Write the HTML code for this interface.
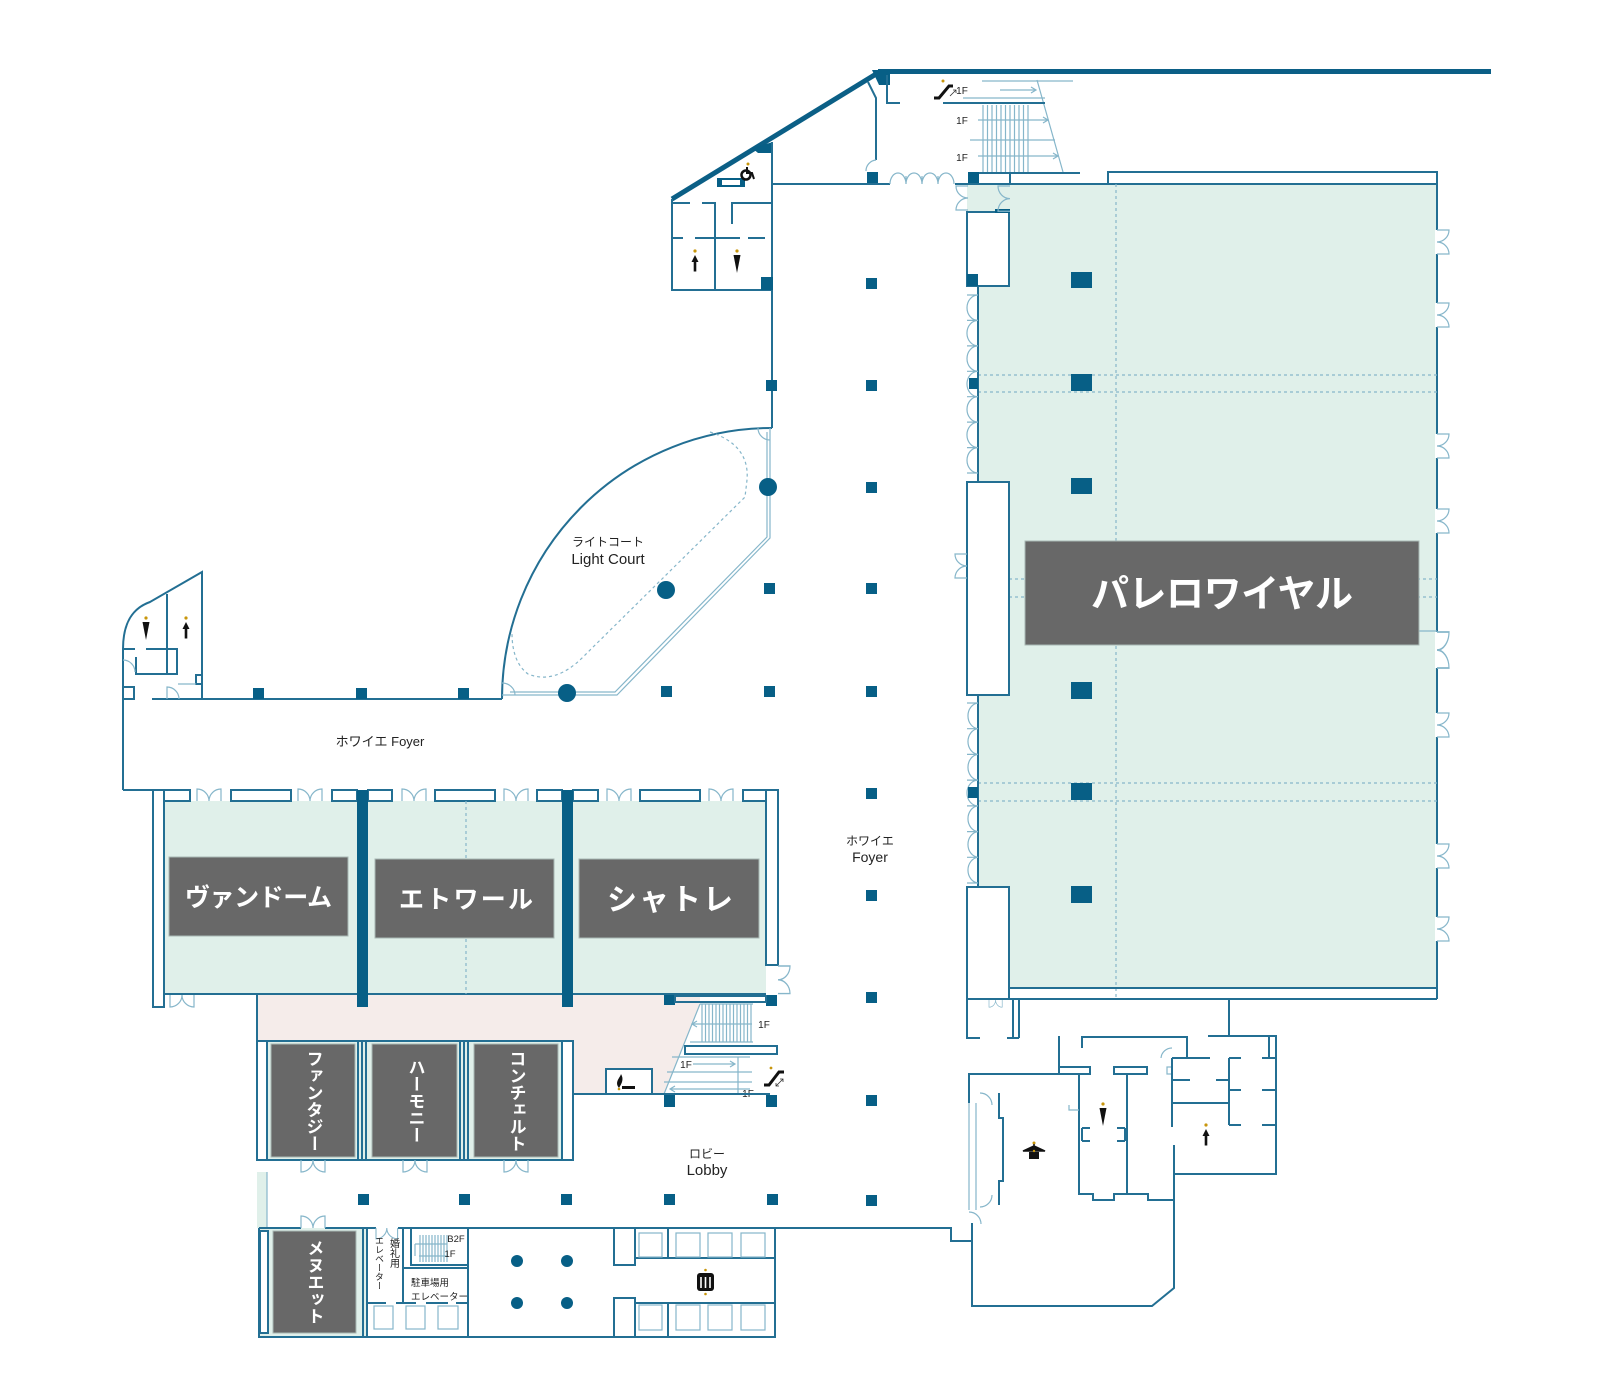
<!DOCTYPE html>
<html><head><meta charset="utf-8">
<style>
html,body{margin:0;padding:0;background:#fff;}
svg{display:block;}
.w{stroke:#236f93;stroke-width:2;fill:none;}
.wf{stroke:#236f93;stroke-width:2;fill:#fff;}
.l{stroke:#86b6ca;stroke-width:1.2;fill:none;}
.c{fill:#075f86;}
.d{stroke:#86b6ca;stroke-width:1.2;fill:none;stroke-dasharray:3 3;}
.lab{fill:#686868;stroke:#a9b8b4;stroke-width:1;}
.lt{font-family:"Liberation Sans","Noto Sans CJK JP",sans-serif;fill:#fff;font-weight:bold;}
.tx{font-family:"Liberation Sans","Noto Sans CJK JP",sans-serif;fill:#222;}
.vt{font-family:"Liberation Sans","Noto Sans CJK JP",sans-serif;fill:#fff;font-weight:bold;writing-mode:vertical-rl;}
.ic{fill:#111;}
.gd{fill:#c8960c;}
</style></head><body>
<svg width="1600" height="1400" viewBox="0 0 1600 1400" xmlns="http://www.w3.org/2000/svg">
<defs>
<path id="dd" d="M0,0 V-12 A12,12 0 0 1 12,0 M24,0 V-12 A12,12 0 0 0 12,0" stroke="#86b6ca" stroke-width="1.2" fill="none"/>
<g id="mup"><circle cx="0" cy="-12" r="1.6" fill="#c8960c"/><polygon points="0,-8 -3.5,-1 3.5,-1" fill="#111"/><rect x="-1.3" y="-1.5" width="2.6" height="10" fill="#111"/></g>
<g id="fdn"><circle cx="0" cy="-12" r="1.6" fill="#c8960c"/><polygon points="-3.5,-8 3.5,-8 0,10" fill="#111"/></g>
</defs>

<!-- fills -->
<rect x="978" y="184" width="459" height="804" fill="#e0f0ea"/>
<rect x="967" y="184" width="42" height="28" fill="#e0f0ea"/>
<rect x="164" y="801" width="602" height="193" fill="#e0f0ea"/>
<polygon points="257,995 700,995 700,1004 664,1094 573,1094 573,1041 257,1041" fill="#f5ecea"/>
<rect x="257" y="1041" width="316" height="119" fill="#e0f0ea"/>
<rect x="259" y="1228" width="108" height="109" fill="#e0f0ea"/>
<rect x="257" y="1172" width="10" height="56" fill="#e0f0ea"/>

<!-- TOP -->
<line x1="878" y1="71.5" x2="1491" y2="71.5" stroke="#0b5f86" stroke-width="5"/>
<line x1="672" y1="199" x2="881" y2="71" stroke="#0b5f86" stroke-width="5"/>
<polygon points="872,70 890,70 890,85 879,85" class="c"/>
<polygon points="752,148 773,142 773,153 758,153" class="c"/>
<polyline points="868,82 876,98 876,160" class="w"/>
<path d="M876,160 A11,11 0 0 0 866,171" class="l"/>
<rect x="867" y="172" width="11" height="12" class="c"/>
<path d="M887,75 V103 H900" class="w"/>
<line x1="772" y1="184" x2="890" y2="184" class="w"/>
<path d="M890,184 A8,11 0 0 1 906,184 A8,11 0 0 1 922,184 A8,11 0 0 1 938,184 A8,11 0 0 1 954,184 M906,184 V176 M922,184 V176 M938,184 V176" class="l"/>
<rect x="968" y="172" width="11" height="12" class="c"/>
<line x1="979" y1="173" x2="1080" y2="173" class="w"/>
<line x1="955" y1="184" x2="1437" y2="184" class="w"/>
<line x1="1010" y1="173" x2="1010" y2="184" class="w"/>
<path d="M1108,184 V172 H1437 V999" class="w"/>
<!-- top stairs -->
<g class="l">
<path d="M983,105V172 M987.5,105V172 M992,105V172 M996.5,105V172 M1001,105V172 M1005.5,105V172 M1010,105V172 M1014.5,105V172 M1019,105V172 M1023.5,105V172 M1028,105V172"/>
<path d="M982,81 H1073 M963,98 H1045 M970,140 H1055 M1037,80 L1063,172"/>
<path d="M1000,90 H1036 M1031,87 L1036,90 L1031,93"/>
<path d="M978,120 H1048 M1043,117 L1048,120 L1043,123"/>
<path d="M978,156 H1058 M1053,153 L1058,156 L1053,159"/>
</g>
<line x1="943" y1="103" x2="1045" y2="103" class="w"/>
<text x="962" y="94" class="tx" font-size="10" text-anchor="middle">1F</text>
<text x="962" y="124" class="tx" font-size="10" text-anchor="middle">1F</text>
<text x="962" y="161" class="tx" font-size="10" text-anchor="middle">1F</text>
<path d="M934,98 H939 L949,86 H953" stroke="#111" stroke-width="3" fill="none"/>
<circle cx="943" cy="81" r="1.5" class="gd"/>
<path d="M950,96 L956,90 M953,90 H956 V93" stroke="#333" stroke-width="0.8" fill="none"/>

<!-- top-left restroom block -->
<path d="M672,199 V290 H773" class="w"/>
<line x1="772" y1="142" x2="772" y2="428" class="w"/>
<line x1="715" y1="203" x2="715" y2="290" class="w"/>
<path d="M672,203 H690 M702,203 H716 M732,224 V203 H772 M672,238 H683 M695,238 H740 M748,238 H765" class="w"/>
<rect x="761" y="277" width="12" height="13" class="c"/>
<rect x="766" y="380" width="11" height="11" class="c"/>
<rect x="717" y="178" width="28" height="9" class="c"/>
<rect x="722" y="180" width="18" height="5" fill="#fff"/>
<circle cx="748" cy="164" r="1.5" class="gd"/>
<circle cx="746" cy="175" r="4.5" stroke="#111" stroke-width="2.5" fill="none"/>
<path d="M747,167 V173 H752 L754,179" stroke="#111" stroke-width="2" fill="none"/>
<use href="#mup" x="695" y="263"/>
<use href="#fdn" x="737" y="263"/>

<!-- light court -->
<path d="M772,428 A270,271 0 0 0 502,699" class="w"/>
<polyline points="770,428 770,538 617,695 502,695" class="l"/>
<polyline points="767,432 767,537 615,692 510,692" class="l"/>
<path d="M710,432 Q750,445 747,480 L745,497 L583,657 Q555,685 528,674 Q512,662 512,633" class="d"/>
<path d="M758,428 A12,12 0 0 0 770,440" class="l"/>
<path d="M502,683 A13,12 0 0 1 515,695" class="l"/>
<circle cx="768" cy="487" r="9" class="c"/>
<circle cx="666" cy="590" r="9" class="c"/>
<circle cx="567" cy="693" r="9" class="c"/>
<text x="608" y="546" class="tx" font-size="12" text-anchor="middle">ライトコート</text>
<text x="608" y="564" class="tx" font-size="15" text-anchor="middle">Light Court</text>

<!-- foyer columns grid -->
<g class="c">
<rect x="866" y="278" width="11" height="11"/><rect x="866" y="380" width="11" height="11"/>
<rect x="866" y="482" width="11" height="11"/><rect x="866" y="583" width="11" height="11"/>
<rect x="866" y="686" width="11" height="11"/><rect x="866" y="788" width="11" height="11"/>
<rect x="866" y="890" width="11" height="11"/><rect x="866" y="992" width="11" height="11"/>
<rect x="866" y="1095" width="11" height="11"/><rect x="866" y="1195" width="11" height="11"/>
<rect x="764" y="583" width="11" height="11"/><rect x="764" y="686" width="11" height="11"/>
<rect x="661" y="686" width="11" height="11"/>
<rect x="358" y="1194" width="11" height="11"/><rect x="459" y="1194" width="11" height="11"/>
<rect x="561" y="1194" width="11" height="11"/><rect x="664" y="1194" width="11" height="11"/>
<rect x="767" y="1194" width="11" height="11"/>
</g>
<text x="870" y="845" class="tx" font-size="12" text-anchor="middle">ホワイエ</text>
<text x="870" y="862" class="tx" font-size="14" text-anchor="middle">Foyer</text>

<!-- foyer west -->
<line x1="152" y1="699" x2="502" y2="699" class="w"/>
<line x1="123" y1="649" x2="123" y2="790" class="w"/>
<line x1="123" y1="790" x2="153" y2="790" class="w"/>
<rect x="253" y="688" width="11" height="11" class="c"/>
<rect x="356" y="688" width="11" height="11" class="c"/>
<rect x="458" y="688" width="11" height="11" class="c"/>
<path d="M123,649 C123,622 133,608 150,602 L202,572 V699" class="w"/>
<path d="M167,594 V674 M123,649 H135 M146,649 H177 V674 H136 V657" class="w"/>
<rect x="123" y="687" width="11" height="12" class="w"/>
<rect x="196" y="675" width="6" height="9" class="w"/>
<path d="M123,660 A12,12 0 0 1 135,672 M167,699 V687 A12,12 0 0 1 179,699 M178,684 H196" class="l"/>
<use href="#fdn" x="146" y="630"/>
<use href="#mup" x="186" y="630"/>
<text x="380" y="746" class="tx" font-size="13" text-anchor="middle">ホワイエ Foyer</text>

<!-- ballroom band -->
<g class="w">
<rect x="164" y="790" width="26" height="11"/><rect x="231" y="790" width="60" height="11"/>
<rect x="332" y="790" width="25" height="11"/><rect x="368" y="790" width="24" height="11"/>
<rect x="435" y="790" width="60" height="11"/><rect x="537" y="790" width="25" height="11"/>
<rect x="573" y="790" width="25" height="11"/><rect x="640" y="790" width="60" height="11"/>
<rect x="743" y="790" width="23" height="11"/>
</g>
<rect x="153" y="790" width="11" height="217" class="wf"/>
<rect x="766" y="790" width="12" height="175" class="wf"/>
<use href="#dd" transform="translate(197,801)"/>
<use href="#dd" transform="translate(298,801)"/>
<use href="#dd" transform="translate(402,801)"/>
<use href="#dd" transform="translate(504,801)"/>
<use href="#dd" transform="translate(607,801)"/>
<use href="#dd" transform="translate(709,801)"/>
<use href="#dd" transform="translate(778,966) rotate(90) scale(1.15,1)"/>
<use href="#dd" transform="translate(170,995) scale(1,-1)"/>
<line x1="164" y1="994" x2="766" y2="994" class="w"/>
<line x1="466" y1="801" x2="466" y2="994" class="d"/>
<rect x="357" y="790" width="11" height="217" class="c"/>
<rect x="562" y="790" width="11" height="217" class="c"/>
<rect x="169" y="857" width="179" height="79" class="lab"/>
<rect x="375" y="859" width="179" height="79" class="lab"/>
<rect x="579" y="859" width="180" height="79" class="lab"/>
<text x="258.5" y="906" class="lt" font-size="25" text-anchor="middle" textLength="147" lengthAdjust="spacing">ヴァンドーム</text>
<text x="466" y="908" class="lt" font-size="25" text-anchor="middle" textLength="134" lengthAdjust="spacing">エトワール</text>
<text x="670" y="910" class="lt" font-size="30" text-anchor="middle" textLength="126" lengthAdjust="spacing">シャトレ</text>

<!-- pink / escalator -->
<line x1="257" y1="995" x2="257" y2="1041" class="w"/>
<rect x="664" y="995" width="11" height="10" class="c"/>
<rect x="766" y="995" width="11" height="11" class="c"/>
<rect x="675" y="996" width="91" height="6" class="w"/>
<g class="l">
<path d="M702,1004V1042 M705.5,1004V1042 M709,1004V1042 M712.5,1004V1042 M716,1004V1042 M719.5,1004V1042 M723,1004V1042 M726.5,1004V1042 M730,1004V1042 M733.5,1004V1042 M737,1004V1042 M740.5,1004V1042 M744,1004V1042 M747.5,1004V1042 M751,1004V1042"/>
<path d="M700,1004 H753 M690,1042 H753 M752,1024 H692 M697,1021 L692,1024 L697,1027"/>
<path d="M700,1004 L664,1094"/>
<path d="M672,1057 H750 M667,1072 H752 M664,1082 H752 M738,1057 V1093"/>
<path d="M693,1064 H735 M730,1061 L735,1064 L730,1067"/>
<path d="M750,1089 H670 M675,1086 L670,1089 L675,1092"/>
</g>
<text x="764" y="1028" class="tx" font-size="10" text-anchor="middle">1F</text>
<text x="686" y="1068" class="tx" font-size="10" text-anchor="middle">1F</text>
<text x="748" y="1097" class="tx" font-size="10" text-anchor="middle">1F</text>
<rect x="685" y="1046" width="92" height="8" class="w"/>
<line x1="573" y1="1094" x2="770" y2="1094" class="w"/>
<rect x="664" y="1095" width="11" height="12" class="c"/>
<rect x="766" y="1095" width="11" height="12" class="c"/>
<rect x="606" y="1069" width="46" height="25" class="wf"/>
<path d="M619,1088 C614,1082 620,1078 621,1074 C624,1079 622,1083 619,1088Z" class="ic"/>
<rect x="622" y="1086" width="13" height="3" class="ic"/>
<circle cx="619" cy="1089" r="1.3" class="gd"/>
<path d="M764,1085 H769 L779,1072 H784" stroke="#111" stroke-width="3" fill="none"/>
<circle cx="771" cy="1068" r="1.4" class="gd"/>
<path d="M776,1086 L783,1079 M780,1079 H783 V1082 M776,1083 V1086 H779" stroke="#333" stroke-width="0.8" fill="none"/>

<!-- small rooms -->
<rect x="257" y="1041" width="316" height="119" class="w"/>
<rect x="257" y="1041" width="10" height="119" class="wf"/>
<rect x="562" y="1041" width="11" height="119" class="wf"/>
<path d="M358,1041 V1160 M362,1041 V1160 M366,1041 V1160 M460,1041 V1160 M464,1041 V1160 M468,1041 V1160" class="w" stroke-width="1.3"/>
<rect x="271" y="1044" width="84" height="113" class="lab"/>
<rect x="372" y="1044" width="85" height="113" class="lab"/>
<rect x="474" y="1044" width="84" height="113" class="lab"/>
<text x="313" y="1101" class="vt" font-size="17" text-anchor="middle">ファンタジー</text>
<text x="415" y="1101" class="vt" font-size="17" text-anchor="middle">ハーモニー</text>
<text x="516" y="1101" class="vt" font-size="17" text-anchor="middle">コンチェルト</text>
<use href="#dd" transform="translate(301,1160) scale(1,-1)"/>
<use href="#dd" transform="translate(403,1160) scale(1,-1)"/>
<use href="#dd" transform="translate(504,1160) scale(1,-1)"/>
<line x1="267" y1="1172" x2="267" y2="1228" class="l"/>
<text x="707" y="1158" class="tx" font-size="12" text-anchor="middle">ロビー</text>
<text x="707" y="1175" class="tx" font-size="15" text-anchor="middle">Lobby</text>

<!-- lower block -->
<path d="M259,1228 H301 M325,1228 H376 M398,1228 H951 V1241 H972" class="w"/>
<use href="#dd" transform="translate(301,1228)"/>
<use href="#dd" transform="translate(376,1228) scale(0.9,-0.9)"/>
<path d="M259,1228 V1337 H775 V1228" class="w"/>
<rect x="260" y="1231" width="8" height="102" class="wf"/>
<path d="M363,1228 V1337 M367,1228 V1337 M403,1228 V1303 M468,1228 V1337" class="w"/>
<rect x="273" y="1231" width="83" height="102" class="lab"/>
<text x="314" y="1282" class="vt" font-size="17" text-anchor="middle">メヌエット</text>
<text x="393" y="1253" class="tx" font-size="10" text-anchor="middle" style="writing-mode:vertical-rl">婚礼用</text>
<text x="379" y="1263" class="tx" font-size="9" text-anchor="middle" style="writing-mode:vertical-rl">エレベーター</text>
<rect x="411" y="1228" width="57" height="37" class="w"/>
<g class="l">
<path d="M420,1235V1262 M423,1235V1262 M426,1235V1262 M429,1235V1262 M432,1235V1262 M435,1235V1262 M438,1235V1262 M441,1235V1262 M444,1235V1262 M447,1235V1262"/>
<path d="M415,1244 H447 M419,1256 H447 M415,1244 V1256"/>
</g>
<line x1="403" y1="1268" x2="468" y2="1268" class="w"/>
<text x="456" y="1242" class="tx" font-size="9.5" text-anchor="middle">B2F</text>
<text x="450" y="1257" class="tx" font-size="9.5" text-anchor="middle">1F</text>
<text x="411" y="1286" class="tx" font-size="9.5">駐車場用</text>
<text x="411" y="1300" class="tx" font-size="9.5">エレベーター</text>
<path d="M367,1303 H386 M396,1303 H416 M426,1303 H448 M456,1303 H468" class="w"/>
<g class="l"><rect x="374" y="1306" width="19" height="23"/><rect x="406" y="1306" width="19" height="23"/><rect x="438" y="1306" width="20" height="23"/></g>
<circle cx="517" cy="1261" r="6" class="c"/><circle cx="567" cy="1261" r="6" class="c"/>
<circle cx="517" cy="1303" r="6" class="c"/><circle cx="567" cy="1303" r="6" class="c"/>
<!-- elevator bank -->
<rect x="614" y="1228" width="21" height="37" class="w"/>
<rect x="614" y="1298" width="21" height="39" class="w"/>
<path d="M635,1258 H775 M635,1303 H775 M668,1228 V1258 M668,1303 V1337" class="w"/>
<g class="l">
<rect x="639" y="1233" width="23" height="24"/><rect x="676" y="1233" width="24" height="24"/>
<rect x="708" y="1233" width="24" height="24"/><rect x="741" y="1233" width="24" height="24"/>
<rect x="639" y="1305" width="23" height="25"/><rect x="676" y="1305" width="24" height="25"/>
<rect x="708" y="1305" width="24" height="25"/><rect x="741" y="1305" width="24" height="25"/>
</g>
<rect x="697" y="1273" width="17" height="18" rx="3" class="ic"/>
<path d="M701,1277 V1288 M705.5,1277 V1288 M710,1277 V1288" stroke="#fff" stroke-width="1.6"/>
<circle cx="705.5" cy="1270" r="1.3" class="gd"/><circle cx="705.5" cy="1294" r="1.3" class="gd"/>

<!-- PALAIS ROYAL -->
<g class="d">
<line x1="1116" y1="184" x2="1116" y2="999"/>
<line x1="978" y1="375" x2="1437" y2="375"/><line x1="978" y1="392" x2="1437" y2="392"/>
<line x1="1009" y1="579" x2="1437" y2="579"/><line x1="1009" y1="597" x2="1437" y2="597"/>
<line x1="978" y1="783" x2="1437" y2="783"/><line x1="978" y1="801" x2="1437" y2="801"/>
</g>
<g class="c">
<rect x="1071" y="272" width="21" height="16"/><rect x="1071" y="374" width="21" height="17"/>
<rect x="1071" y="478" width="21" height="16"/><rect x="1071" y="682" width="21" height="17"/>
<rect x="1071" y="783" width="21" height="17"/><rect x="1071" y="886" width="21" height="17"/>
</g>
<rect x="967" y="212" width="42" height="74" class="wf"/>
<rect x="967" y="274" width="11" height="12" class="c"/>
<rect x="995" y="209" width="15" height="4" class="c"/>
<use href="#dd" transform="translate(968,186) rotate(90) scale(1,-1)"/>
<use href="#dd" transform="translate(1010,186) rotate(90) scale(1.05,-1)"/>
<line x1="978" y1="286" x2="978" y2="482" class="w"/>
<path d="M978,295 A11,12.7 0 0 0 978,320.4 A11,12.7 0 0 0 978,345.9 A11,12.7 0 0 0 978,371.3 A11,12.7 0 0 0 978,396.7 A11,12.7 0 0 0 978,422.1 A11,12.7 0 0 0 978,447.6 A11,12.7 0 0 0 978,473 M967,295H978 M967,320.4H978 M967,345.9H978 M967,371.3H978 M967,396.7H978 M967,422.1H978 M967,447.6H978 M967,473H978" class="l"/>
<rect x="969" y="378" width="9" height="11" class="c"/>
<rect x="967" y="482" width="42" height="213" class="wf"/>
<use href="#dd" transform="translate(967,554) rotate(90) scale(1,-1)"/>
<line x1="978" y1="695" x2="978" y2="887" class="w"/>
<path d="M978,703 A11,12.9 0 0 0 978,728.7 A11,12.9 0 0 0 978,754.4 A11,12.9 0 0 0 978,780.1 A11,12.9 0 0 0 978,805.9 A11,12.9 0 0 0 978,831.6 A11,12.9 0 0 0 978,857.3 A11,12.9 0 0 0 978,883 M967,703H978 M967,728.7H978 M967,754.4H978 M967,780.1H978 M967,805.9H978 M967,831.6H978 M967,857.3H978 M967,883H978" class="l"/>
<rect x="968" y="787" width="10" height="11" class="c"/>
<rect x="967" y="887" width="42" height="112" class="wf"/>
<line x1="1009" y1="988" x2="1437" y2="988" class="w"/>
<line x1="967" y1="999" x2="1437" y2="999" class="w"/>
<!-- right wall doors -->
<g fill="#fff">
<rect x="1435" y="230" width="4" height="24"/><rect x="1435" y="303" width="4" height="24"/>
<rect x="1435" y="434" width="4" height="24"/><rect x="1435" y="509" width="4" height="24"/>
<rect x="1435" y="632" width="4" height="36"/><rect x="1435" y="713" width="4" height="24"/>
<rect x="1435" y="844" width="4" height="24"/><rect x="1435" y="917" width="4" height="24"/>
</g>
<use href="#dd" transform="translate(1437,230) rotate(90)"/>
<use href="#dd" transform="translate(1437,303) rotate(90)"/>
<use href="#dd" transform="translate(1437,434) rotate(90)"/>
<use href="#dd" transform="translate(1437,509) rotate(90)"/>
<use href="#dd" transform="translate(1437,632) rotate(90) scale(1.5,1)"/>
<use href="#dd" transform="translate(1437,713) rotate(90)"/>
<use href="#dd" transform="translate(1437,844) rotate(90)"/>
<use href="#dd" transform="translate(1437,917) rotate(90)"/>
<line x1="1419" y1="631" x2="1437" y2="631" class="l"/>
<rect x="1025" y="541" width="394" height="104" class="lab"/>
<text x="1222" y="607" class="lt" font-size="38" text-anchor="middle" textLength="262" lengthAdjust="spacing">パレロワイヤル</text>

<!-- bottom right block -->
<path d="M967,999 V1038 H980 M1013,999 V1038 M1019,999 V1038 M1007,1038 H1019" class="w"/>
<use href="#dd" transform="translate(989,1000) scale(0.55,-0.6)"/>
<path d="M1229,999 V1036 M1208,1036 H1276 V1174 H1174" class="w"/>
<path d="M1059,1036 V1073 M1082,1048 V1037 H1187 V1058" class="w"/>
<rect x="1059" y="1067" width="31" height="7" class="wf"/>
<rect x="1114" y="1067" width="33" height="7" class="wf"/>
<rect x="1167" y="1067" width="5" height="7" class="l"/>
<path d="M969,1103 V1074 H1079" class="w"/>
<path d="M969,1103 V1210 M976,1103 V1210" class="l"/>
<path d="M999,1093 V1118 H1003 V1181 H999 V1205" class="w"/>
<path d="M980,1093 A12,12 0 0 1 992,1105 M980,1207 A12,12 0 0 0 992,1195 M969,1212 A12,12 0 0 1 981,1224" class="l"/>
<path d="M972,1223 V1306 H1152 L1174,1288 V1145" class="w"/>
<path d="M1079,1074 V1194 H1093 V1200 H1114 V1194 H1148 V1200 H1174 M1127,1074 V1194" class="w"/>
<path d="M1172,1058 V1127 M1172,1058 H1210 M1172,1103 H1229 M1229,1058 V1125 M1229,1058 H1241 M1262,1058 H1275 M1229,1090 H1241 M1262,1090 H1275 M1229,1125 H1241 M1262,1125 H1275 M1172,1080 H1190 M1216,1080 H1229 M1269,1036 V1058" class="w"/>
<path d="M1172,1048 A11,11 0 0 0 1161,1058 M1069,1105 V1110 H1079" class="l"/>
<path d="M1082,1128 V1141 M1082,1128 H1090 M1082,1141 H1090 M1125,1128 V1141 M1125,1128 H1117 M1125,1141 H1117" class="w"/>
<use href="#fdn" x="1103" y="1116"/>
<use href="#mup" x="1206" y="1137"/>
<circle cx="1034" cy="1143" r="1.5" class="gd"/>
<path d="M1034,1144 V1147 M1023,1151 L1034,1146 L1045,1151 Z" stroke="#111" stroke-width="1.5" fill="#111"/>
<rect x="1029" y="1152" width="10" height="7" class="ic"/>
<circle cx="1034" cy="1151" r="1.2" class="gd"/>
</svg>
</body></html>
